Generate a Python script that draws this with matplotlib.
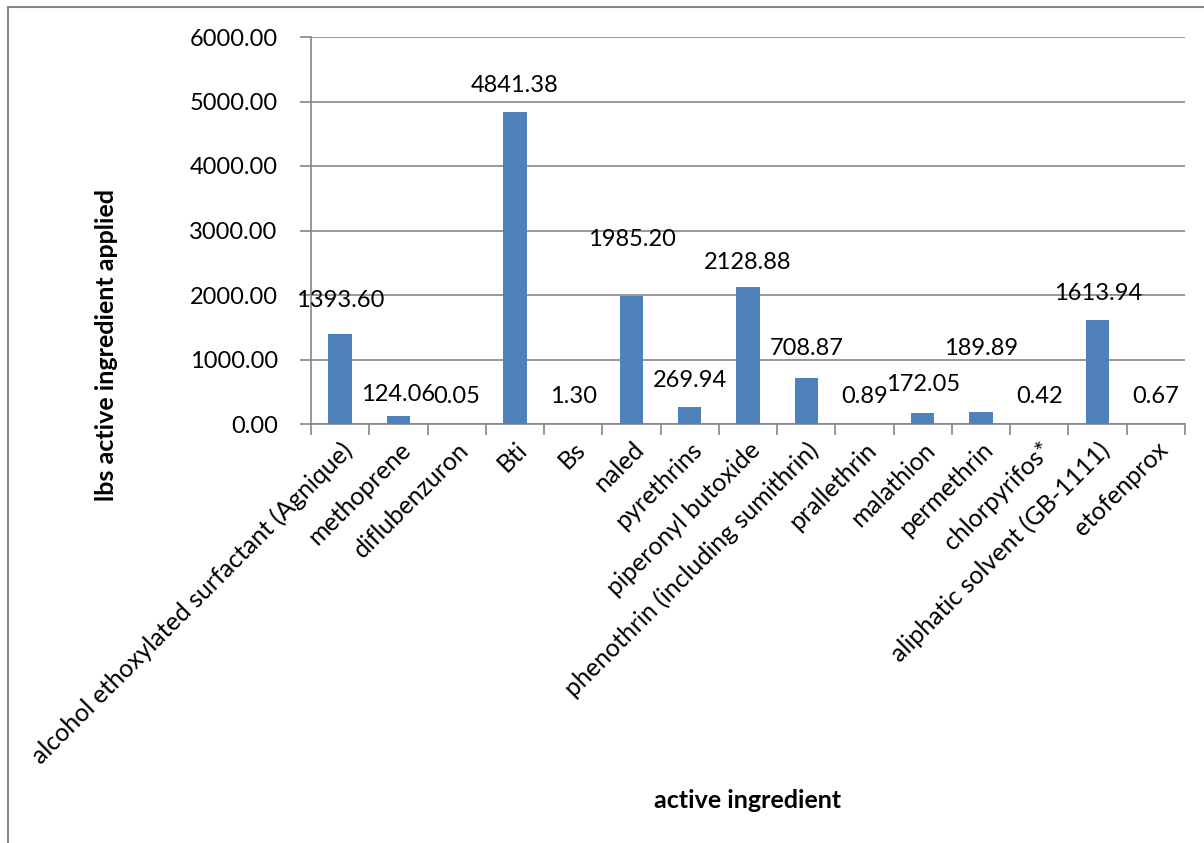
import matplotlib.pyplot as plt
from matplotlib.patches import Rectangle
import numpy as np

plt.rcParams['font.family'] = ['Lato', 'DejaVu Sans']

categories = ['alcohol ethoxylated surfactant (Agnique)', 'methoprene', 'diflubenzuron',
              'Bti', 'Bs', 'naled', 'pyrethrins', 'piperonyl butoxide',
              'phenothrin (including sumithrin)', 'prallethrin', 'malathion',
              'permethrin', 'chlorpyrifos*', 'aliphatic solvent (GB-1111)', 'etofenprox']
values = [1393.60, 124.06, 0.05, 4841.38, 1.30, 1985.20, 269.94, 2128.88,
          708.87, 0.89, 172.05, 189.89, 0.42, 1613.94, 0.67]
# where Excel left each data label (centre height, data units)
label_y = [1920, 450, 434, 5255, 434, 2853, 682, 2511, 1178, 434, 605, 1163, 434, 2031, 434]

bar_color = '#4F81BD'
grid_color = '#868686'

fig = plt.figure(figsize=(12.04, 8.43), dpi=100)
ax = fig.add_axes([311/1204, 1-424/843, 874/1204, 387/843])

x = np.arange(len(categories))
ax.bar(x, values, width=0.4, color=bar_color, zorder=3)
for xi, v, ly in zip(x, values, label_y):
    ax.text(xi, ly, f'{v:.2f}', ha='center', va='center', fontsize=17, color='black', zorder=4)

ax.set_xlim(-0.5, len(categories)-0.5)
ax.set_ylim(0, 6000)
ax.set_yticks(np.arange(0, 6001, 1000))
ax.set_yticklabels([f'{t:.2f}' for t in np.arange(0, 6001, 1000)], fontsize=17)
ax.yaxis.grid(True, color=grid_color, linewidth=1.2, zorder=0)

ax.set_xticks(np.arange(-0.5, len(categories)))
ax.set_xticklabels([])
ax.set_xticks(x, minor=True)
ax.set_xticklabels(categories, minor=True, rotation=45, ha='right', va='top',
                   rotation_mode='anchor', fontsize=18)
ax.tick_params(axis='x', which='minor', length=0, pad=10)
ax.tick_params(axis='x', which='major', length=8, color=grid_color, width=1.2)
ax.tick_params(axis='y', length=8, color=grid_color, width=1.2, pad=16)

for s in ['top', 'right']:
    ax.spines[s].set_visible(False)
for s in ['left', 'bottom']:
    ax.spines[s].set_color(grid_color)
    ax.spines[s].set_linewidth(1.2)

ax.set_ylabel('lbs active ingredient applied', fontsize=18, fontweight='bold')
ax.yaxis.set_label_coords(-193/874, 0.204)
fig.text(748/1204, 1-800/843, 'active ingredient', fontsize=18, fontweight='bold',
         ha='center', va='center')

# outer chart border
fig.patches.append(Rectangle((8/1204, -0.1), 1.2, 1-7/843+0.1, transform=fig.transFigure,
                             fill=False, edgecolor='#888888', linewidth=1.5))

fig.savefig('out.png', dpi=100)
